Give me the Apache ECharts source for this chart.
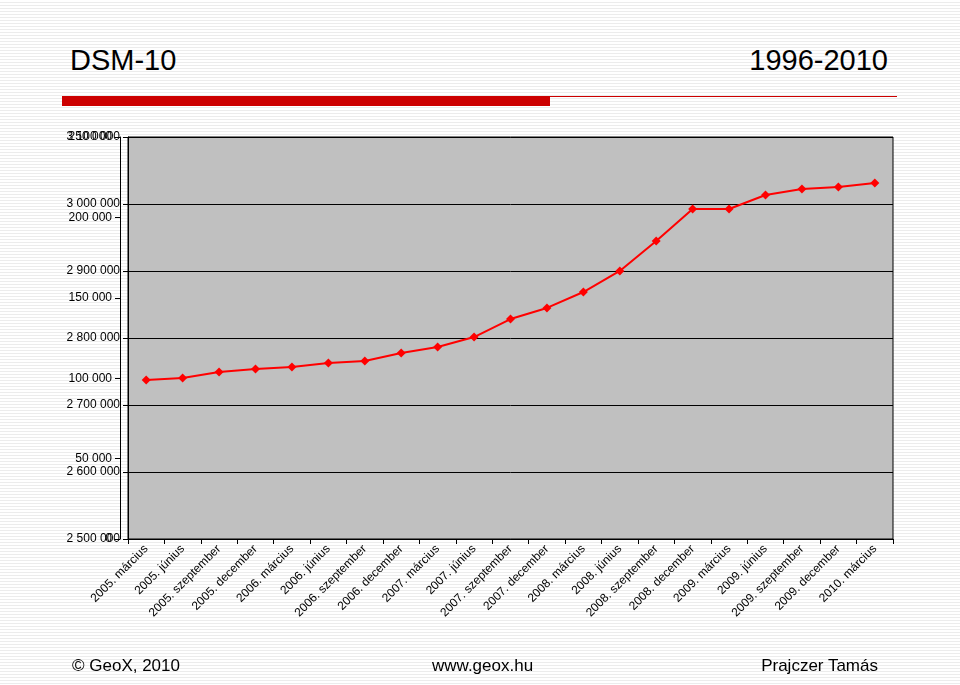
<!DOCTYPE html>
<html><head><meta charset="utf-8">
<script src="https://cdn.jsdelivr.net/npm/echarts@6/dist/echarts.min.js"></script>
<style>
body{margin:0;width:960px;height:685px;overflow:hidden;font-family:Arial,"Liberation Sans",sans-serif;
background:repeating-linear-gradient(to bottom,#fff 0,#fff 2px,#ececec 2px,#ececec 3px);position:relative}
.t{position:absolute;font-size:29px;color:#000;top:44px}
.f{position:absolute;font-size:17px;top:656px}
#bar{position:absolute;left:62px;top:96px;width:488px;height:10px;background:#cc0000}
#ln{position:absolute;left:550px;top:96px;width:347px;height:1px;background:#cc0000}
#c{position:absolute;left:0;top:0;width:960px;height:685px}
</style></head><body>
<div class="t" style="left:70px">DSM-10</div>
<div class="t" style="right:72px">1996-2010</div>
<div id="bar"></div><div id="ln"></div>
<div id="c"></div>
<div class="f" style="left:72px">© GeoX, 2010</div>
<div class="f" style="left:432px">www.geox.hu</div>
<div class="f" style="right:82px">Prajczer Tamás</div>
<script>
var categories = ['2005. március','2005. június','2005. szeptember','2005. december','2006. március','2006. június','2006. szeptember','2006. december','2007. március','2007. június','2007. szeptember','2007. december','2008. március','2008. június','2008. szeptember','2008. december','2009. március','2009. június','2009. szeptember','2009. december','2010. március'];
var values = [98900,100100,103900,105700,107000,109500,110700,115700,119400,125600,136800,143700,153600,166700,185300,205200,205200,213900,217700,218900,221400];

var chart = echarts.init(document.getElementById('c'));
var lbl = {color:'#000', fontSize:12, fontFamily:'Arial'};
function fmt(v){return v.toLocaleString('fr-FR').replace(/\u202f|\u00a0/g,' ');}
chart.setOption({
  grid:{left:128, right:67, top:137, bottom:146, show:true, backgroundColor:'#c0c0c0', borderColor:'#000', borderWidth:1},
  xAxis:{type:'category', data:categories, boundaryGap:true,
    axisLine:{lineStyle:{color:'#000'}}, axisTick:{show:true, lineStyle:{color:'#000'}},
    axisLabel:Object.assign({rotate:45, interval:0, margin:8}, lbl)},
  yAxis:[
    {type:'value', min:2500000, max:3100000, interval:100000, position:'left',
     axisLine:{show:true, lineStyle:{color:'#000'}}, axisTick:{show:true, lineStyle:{color:'#000'}},
     splitLine:{lineStyle:{color:'#000', width:1}},
     axisLabel:Object.assign({formatter:fmt}, lbl)},
    {type:'value', min:0, max:250000, interval:50000, position:'left', offset:8,
     axisLine:{show:true, lineStyle:{color:'#000'}}, axisTick:{show:true, lineStyle:{color:'#000'}},
     splitLine:{show:false},
     axisLabel:Object.assign({formatter:fmt}, lbl)}
  ],
  series:[{type:'line', yAxisIndex:1, data:values, symbol:'diamond', symbolSize:9,
    lineStyle:{color:'#ff0000', width:2}, itemStyle:{color:'#ff0000'}, animation:false}]
});
</script></body></html>
